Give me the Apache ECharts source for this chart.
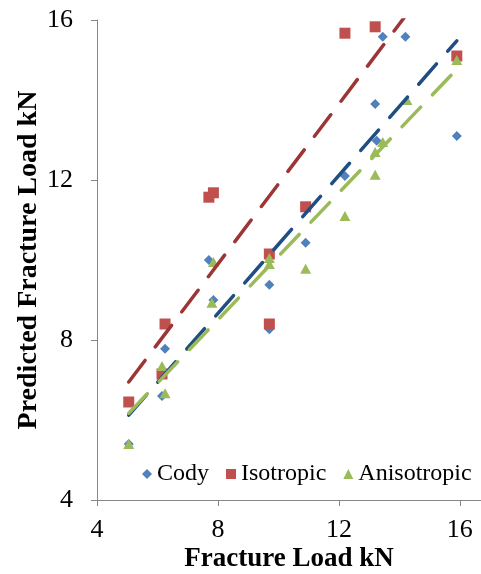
<!DOCTYPE html>
<html>
<head>
<meta charset="utf-8">
<script src="https://cdn.jsdelivr.net/npm/echarts@6/dist/echarts.min.js"></script>
<style>
html,body{margin:0;padding:0;background:#fff;}
#c{width:481px;height:574px;}
</style>
</head>
<body>
<div id="c"></div>
<script>
// ---- data ----
const seriesNames = ['Cody', 'Isotropic', 'Anisotropic'];
const codyPoints = [[5.05,5.4],[6.15,6.6],[6.25,7.78],[7.7,10.0],[7.85,9.0],[9.7,9.38],[9.7,8.27],[10.9,10.43],[12.2,12.1],[13.2,13.9],[13.25,12.98],[13.45,15.58],[14.2,15.58],[15.9,13.1]];
const isoPoints = [[5.05,6.45],[6.15,7.15],[6.25,8.4],[7.7,11.57],[7.85,11.68],[9.7,10.15],[9.7,8.4],[10.9,11.33],[12.2,15.67],[13.2,15.83],[15.9,15.1]];
const anisoPoints = [[5.05,5.4],[6.15,7.35],[6.25,6.67],[7.8,8.93],[7.85,9.95],[9.7,10.05],[9.7,9.9],[10.9,9.78],[12.2,11.1],[13.2,12.13],[13.2,12.7],[13.45,12.95],[14.25,14.0],[15.9,15.0]];
// linear trendline end points (x from, x to) and fitted y values
const trendX = [5.05, 15.9];
const trendCody = [6.12, 15.48];
const trendIso = [6.95, 17.8];
const trendAniso = [6.17, 14.77];
const xTicks = [4, 8, 12, 16];
const yTicks = [4, 8, 12, 16];

const pair = (xs, ys) => xs.map((x, i) => [x, ys[i]]);
const FONT = 'Liberation Serif';
const markerColors = ['#4F81BD', '#C0504D', '#9BBB59'];
const trendColors = ['#1F4E82', '#9C3535', '#9BBB59'];

const chart = echarts.init(document.getElementById('c'), null, {renderer: 'canvas'});
const trendStyle = (c) => ({color: c, width: 3.5, type: [27, 17], cap: 'round'});

chart.setOption({
  animation: false,
  backgroundColor: '#fff',
  grid: {left: 97, top: 20, right: 0, bottom: 74, containLabel: false, outerBoundsMode: 'none'},
  xAxis: {
    type: 'value', min: xTicks[0], max: 16.7, interval: xTicks[1] - xTicks[0],
    name: 'Fracture Load kN', nameLocation: 'middle', nameGap: 46, nameMoveOverlap: false,
    nameTextStyle: {fontFamily: FONT, fontWeight: 'bold', fontSize: 27, color: '#000'},
    axisLine: {show: true, lineStyle: {color: '#868686', width: 1}},
    axisTick: {show: true, inside: false, length: 6, lineStyle: {color: '#868686'}, customValues: xTicks},
    axisLabel: {fontFamily: FONT, fontSize: 26, color: '#000', margin: 17, customValues: xTicks},
    splitLine: {show: false}
  },
  yAxis: {
    type: 'value', min: yTicks[0], max: yTicks[yTicks.length - 1], interval: yTicks[1] - yTicks[0],
    name: 'Predicted Fracture Load kN', nameLocation: 'middle', nameGap: 54, nameMoveOverlap: false,
    nameTextStyle: {fontFamily: FONT, fontWeight: 'bold', fontSize: 28, color: '#000'},
    axisLine: {show: true, lineStyle: {color: '#868686', width: 1}},
    axisTick: {show: true, inside: false, length: 6, lineStyle: {color: '#868686'}},
    axisLabel: {fontFamily: FONT, fontSize: 26, color: '#000', margin: 24},
    splitLine: {show: false}
  },
  legend: {
    left: 137, top: 457, orient: 'horizontal',
    itemWidth: 10, itemHeight: 10, itemGap: 17,
    textStyle: {fontFamily: FONT, fontSize: 24, color: '#000'},
    data: [
      {name: seriesNames[0], icon: 'diamond'},
      {name: seriesNames[1], icon: 'rect'},
      {name: seriesNames[2], icon: 'triangle'}
    ]
  },
  series: [
    {name: seriesNames[0], type: 'scatter', symbol: 'diamond', symbolSize: 10,
      itemStyle: {color: markerColors[0], opacity: 1}, data: codyPoints, z: 2},
    {name: seriesNames[1], type: 'scatter', symbol: 'rect', symbolSize: 11,
      itemStyle: {color: markerColors[1], opacity: 1}, data: isoPoints, z: 2},
    {name: seriesNames[2], type: 'scatter', symbol: 'triangle', symbolSize: [11, 10],
      itemStyle: {color: markerColors[2], opacity: 1}, data: anisoPoints, z: 2},
    {name: 'Cody trend', type: 'line', data: pair(trendX, trendCody), showSymbol: false, symbol: 'none',
      lineStyle: trendStyle(trendColors[0]), clip: true, z: 3, silent: true},
    {name: 'Isotropic trend', type: 'line', data: pair(trendX, trendIso), showSymbol: false, symbol: 'none',
      lineStyle: trendStyle(trendColors[1]), clip: true, z: 3, silent: true},
    {name: 'Anisotropic trend', type: 'line', data: pair(trendX, trendAniso), showSymbol: false, symbol: 'none',
      lineStyle: trendStyle(trendColors[2]), clip: true, z: 3, silent: true}
  ]
});
</script>
</body>
</html>
